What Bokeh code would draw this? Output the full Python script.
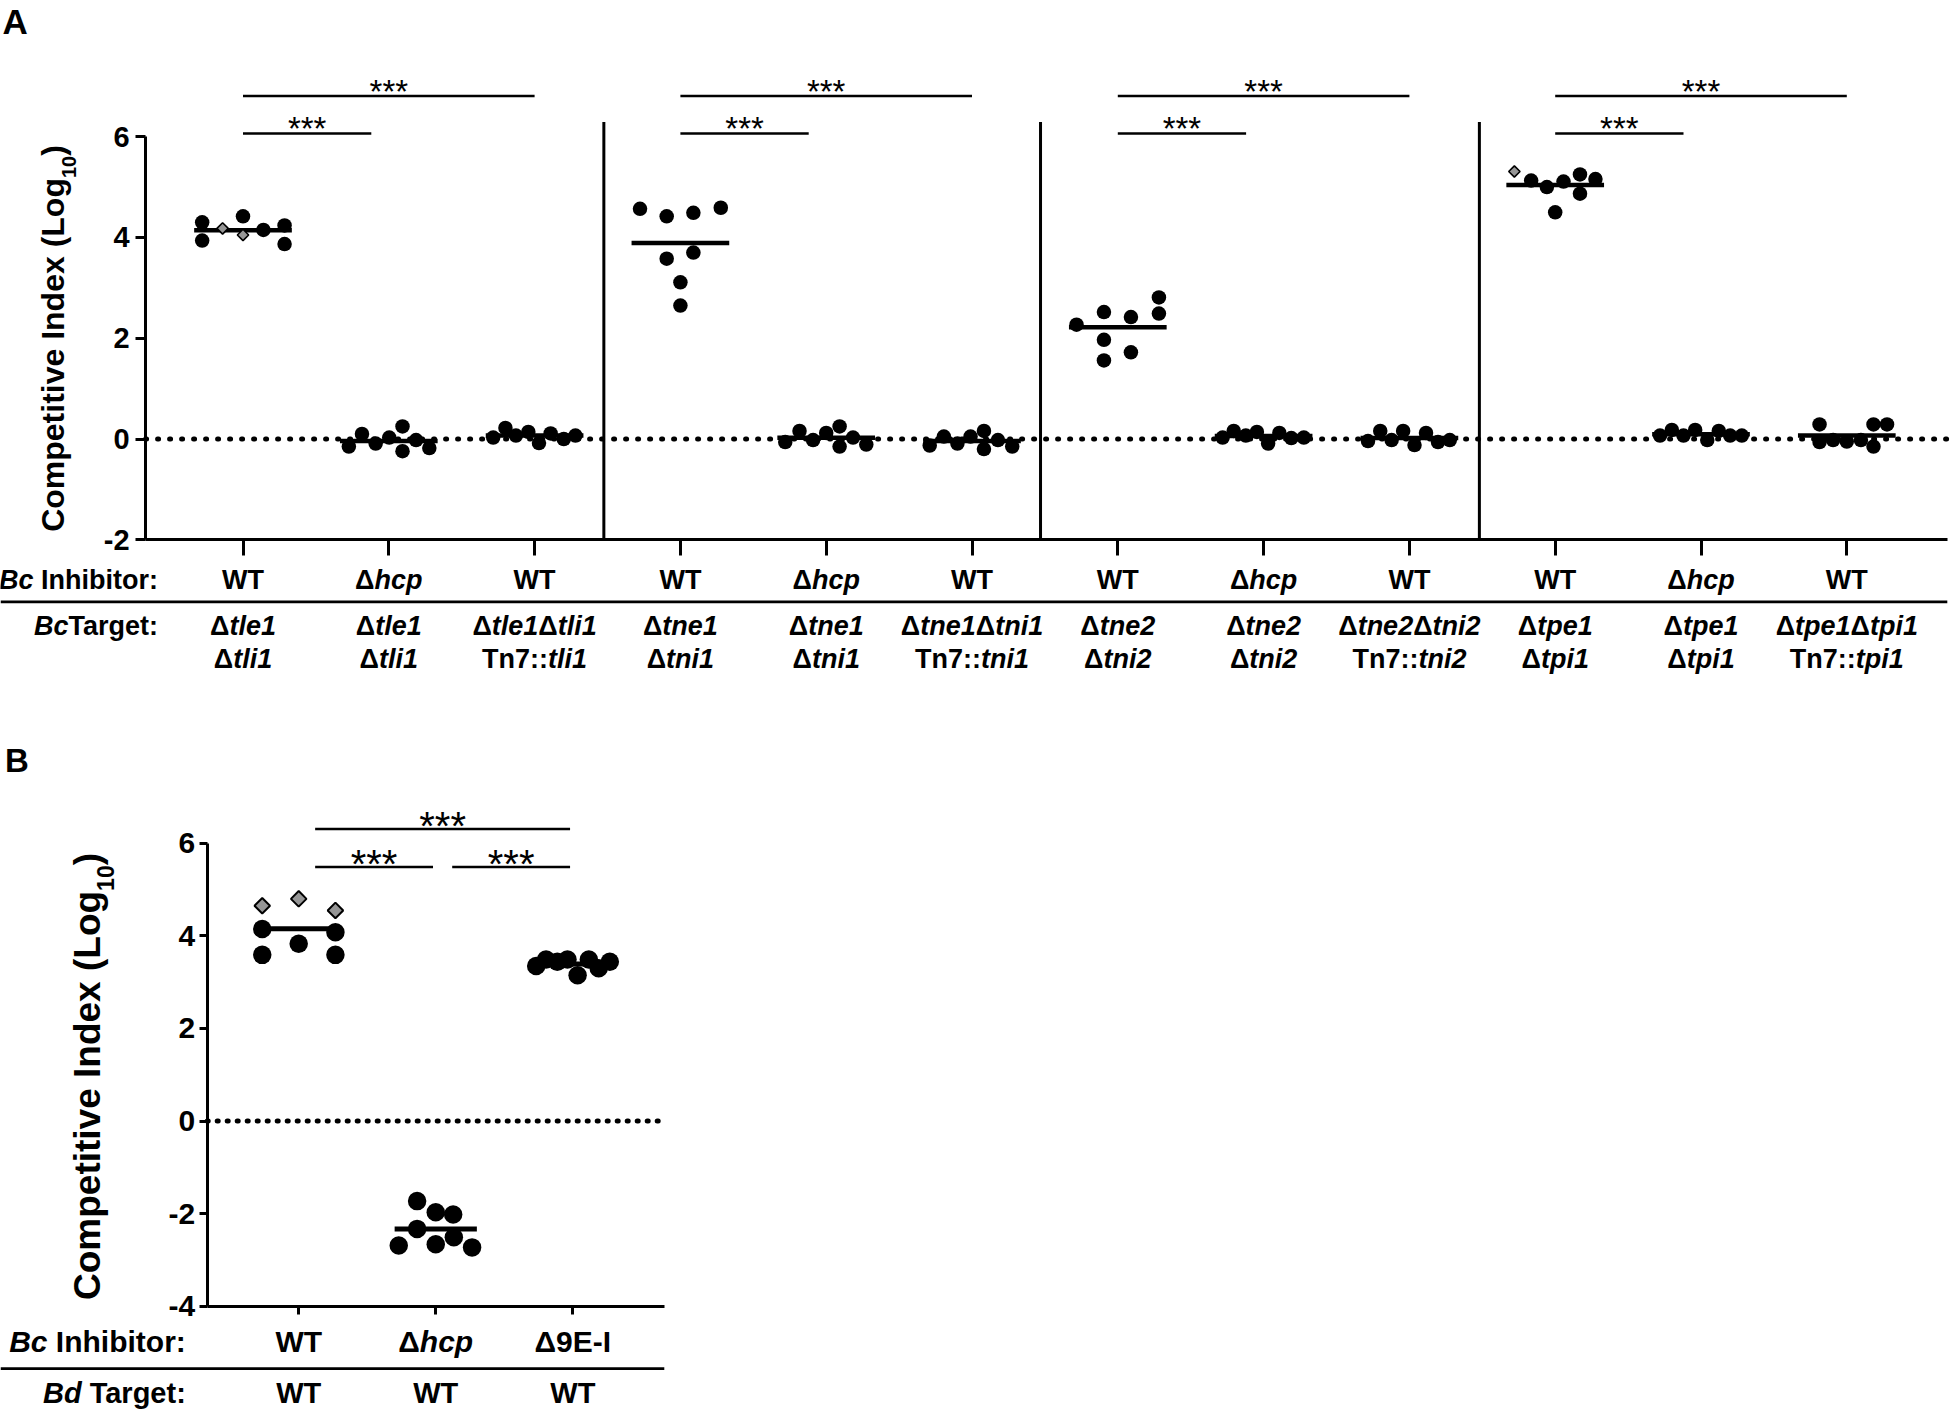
import glob, math
from PIL import ImageFont
from bokeh.plotting import figure
from bokeh.models import Range1d, LinearAxis, FixedTicker, ColumnDataSource
from bokeh.layouts import column
from bokeh.embed import file_html
from bokeh.resources import INLINE
from bokeh.core.properties import value, field

FONT = "Liberation Sans"
NB = "\u00a0"

# ---------------- data: panel A ----------------
A_inhibitor = ["WT", "Δ_hcp_", "WT", "WT", "Δ_hcp_", "WT",
               "WT", "Δ_hcp_", "WT", "WT", "Δ_hcp_", "WT"]
A_target_1 = ["Δ_tle1_", "Δ_tle1_", "Δ_tle1_Δ_tli1_",
              "Δ_tne1_", "Δ_tne1_", "Δ_tne1_Δ_tni1_",
              "Δ_tne2_", "Δ_tne2_", "Δ_tne2_Δ_tni2_",
              "Δ_tpe1_", "Δ_tpe1_", "Δ_tpe1_Δ_tpi1_"]
A_target_2 = ["Δ_tli1_", "Δ_tli1_", "Tn7::_tli1_",
              "Δ_tni1_", "Δ_tni1_", "Tn7::_tni1_",
              "Δ_tni2_", "Δ_tni2_", "Tn7::_tni2_",
              "Δ_tpi1_", "Δ_tpi1_", "Tn7::_tpi1_"]
A_row_labels = ["_Bc_" + NB + "Inhibitor:", "_Bc_Target:"]
A_circle_ci = [
    [4.30, 3.94, 4.42, 4.15, 4.24, 3.87],
    [-0.15, 0.10, -0.09, 0.03, 0.25, -0.24, -0.02, -0.18],
    [0.03, 0.22, 0.07, 0.14, -0.08, 0.11, 0.00, 0.07],
    [4.57, 4.42, 4.49, 4.59, 3.58, 3.70, 3.11, 2.65],
    [-0.06, 0.16, -0.02, 0.12, 0.25, -0.15, 0.03, -0.11],
    [-0.13, 0.05, -0.09, 0.05, 0.16, -0.20, -0.02, -0.15],
    [2.27, 2.52, 1.97, 1.56, 2.42, 1.72, 2.81, 2.49],
    [0.03, 0.16, 0.07, 0.14, -0.09, 0.12, 0.02, 0.03],
    [-0.04, 0.16, -0.02, 0.16, -0.12, 0.12, -0.06, -0.02],
    [5.13, 5.00, 4.50, 5.11, 5.25, 4.87, 5.16],
    [0.07, 0.18, 0.07, 0.18, -0.02, 0.16, 0.07, 0.07],
    [0.29, -0.06, -0.02, -0.05, -0.02, 0.29, -0.15, 0.29],
]
A_circle_jitter = [
    [-0.28, -0.28, 0.0, 0.14, 0.285, 0.285],
    [-0.274, -0.184, -0.09, 0.003, 0.094, 0.094, 0.187, 0.278],
    [-0.284, -0.2, -0.128, -0.043, 0.03, 0.11, 0.2, 0.28],
    [-0.277, -0.094, 0.089, 0.277, -0.094, 0.089, 0.0, 0.0],
    [-0.281, -0.183, -0.09, 0.0, 0.092, 0.092, 0.184, 0.275],
    [-0.29, -0.193, -0.1, -0.01, 0.082, 0.082, 0.178, 0.276],
    [-0.283, -0.095, -0.095, -0.095, 0.09, 0.09, 0.282, 0.282],
    [-0.281, -0.205, -0.122, -0.046, 0.031, 0.108, 0.19, 0.276],
    [-0.284, -0.2, -0.122, -0.043, 0.035, 0.114, 0.196, 0.277],
    [-0.165, -0.057, 0.0, 0.057, 0.17, 0.17, 0.276],
    [-0.281, -0.2, -0.12, -0.04, 0.043, 0.122, 0.2, 0.28],
    [-0.187, -0.187, -0.094, 0.0, 0.097, 0.183, 0.183, 0.276],
]
A_diamond_ci = [[4.18, 4.05], [], [], [], [], [], [], [], [], [5.31], [], []]
A_diamond_jitter = [[-0.14, 0.0], [], [], [], [], [], [], [], [], [-0.28], [], []]
A_comparisons = [(0, 1), (0, 2), (3, 4), (3, 5), (6, 7), (6, 8), (9, 10), (9, 11)]
A_dividers = [2.475, 5.47, 8.48]
A_ticks = [-2, 0, 2, 4, 6]

# ---------------- data: panel B ----------------
B_inhibitor = ["WT", "Δ_hcp_", "Δ9E-I"]
B_target = ["WT", "WT", "WT"]
B_row_labels = ["_Bc_" + NB + "Inhibitor:", "_Bd_" + NB + "Target:"]
B_circle_ci = [
    [4.15, 3.59, 3.83, 4.08, 3.59],
    [-1.73, -1.97, -2.02, -2.33, -2.69, -2.66, -2.51, -2.73],
    [3.35, 3.49, 3.44, 3.49, 3.15, 3.49, 3.30, 3.44],
]
B_circle_jitter = [
    [-0.266, -0.266, 0.0, 0.268, 0.268],
    [-0.136, 0.0, 0.127, -0.136, -0.27, 0.0, 0.132, 0.265],
    [-0.267, -0.195, -0.113, -0.039, 0.035, 0.117, 0.189, 0.27],
]
B_diamond_ci = [[4.65, 4.80, 4.55], [], []]
B_diamond_jitter = [[-0.266, 0.0, 0.268], [], []]
B_comparisons = [(0, 1), (1, 2), (0, 2)]
B_ticks = [-4, -2, 0, 2, 4, 6]
SIG = "***"
YLABEL = ("Competitive Index (Log", "10", ")")

GREY = "#969696"

# ---------------- text measuring ----------------
def _find(name):
    for root in ("/usr/share/fonts", "/usr/local/share/fonts", "/usr/share"):
        hits = glob.glob(root + "/**/" + name, recursive=True)
        if hits:
            return hits[0]
    return None

_FF = {"bold": _find("LiberationSans-Bold.ttf"),
       "bold italic": _find("LiberationSans-BoldItalic.ttf"),
       "normal": _find("LiberationSans-Regular.ttf")}
_cache = {}

def tw(s, style, size):
    path = _FF.get(style)
    if path:
        if path not in _cache:
            _cache[path] = ImageFont.truetype(path, 200)
        return _cache[path].getlength(s) * size / 200.0
    return 0.6 * size * len(s)

def segs(markup):
    out = []
    for i, t in enumerate(markup.split("_")):
        if t:
            out.append((t, "bold italic" if i % 2 else "bold"))
    return out

def new_store():
    return dict(x=[], y=[], text=[], style=[], xo=[], size=[])

def add_rich(store, x, y, markup, size, align="center"):
    ss = segs(markup)
    ws = [tw(t, st, size) for t, st in ss]
    tot = sum(ws)
    off = {"center": -tot / 2, "right": -tot, "left": 0}[align]
    for (t, st), w in zip(ss, ws):
        store["x"].append(x); store["y"].append(y); store["text"].append(t)
        store["style"].append(st); store["xo"].append(off); store["size"].append(f"{size}px")
        off += w

def draw_store(p, store):
    p.text(x="x", y="y", text="text", x_offset="xo", source=ColumnDataSource(store),
           text_font=value(FONT), text_font_style=field("style"), text_font_size=field("size"),
           text_align="left", text_baseline="middle", text_color="black")

def add_ylabel(p, mx, my, center_py, mid_px, size, sub_size, sub_mid_px):
    main, sub, close = YLABEL
    w1 = tw(main, "bold", size); w2 = tw(sub, "bold", sub_size); w3 = tw(close, "bold", size)
    start = center_py + (w1 + w2 + w3) / 2
    src = ColumnDataSource(dict(
        x=[mx(mid_px), mx(sub_mid_px), mx(mid_px)],
        y=[my(start), my(start - w1), my(start - w1 - w2)],
        text=[main, sub, close],
        size=[f"{size}px", f"{sub_size}px", f"{size}px"]))
    p.text(x="x", y="y", text="text", source=src, angle=math.pi / 2,
           text_font=value(FONT), text_font_style="bold", text_font_size=field("size"),
           text_align="left", text_baseline="middle", text_color="black")

def make_fig(w, h, xr, yr):
    p = figure(width=w, height=h, x_range=Range1d(*xr), y_range=Range1d(*yr),
               x_axis_type=None, y_axis_type=None, output_backend="svg",
               toolbar_location=None, min_border=0, outline_line_color=None)
    p.background_fill_color = "white"
    p.border_fill_color = "white"
    return p

def style_axis(ax, tick_out, lsize, standoff):
    ax.axis_line_width = 3
    ax.axis_line_color = "black"
    ax.major_tick_out = tick_out
    ax.major_tick_in = 0
    ax.major_tick_line_width = 3
    ax.major_tick_line_color = "black"
    ax.minor_tick_line_color = None
    ax.major_label_text_font = FONT
    ax.major_label_text_font_style = "bold"
    ax.major_label_text_font_size = f"{lsize}px"
    ax.major_label_text_color = "black"
    ax.major_label_standoff = standoff

def draw_points(p, circ, cjit, dia, djit, csize, dsize, dlw, half, mlw):
    mx0, mx1, my = [], [], []
    for i, (c, d) in enumerate(zip(circ, dia)):
        allv = list(c) + list(d)
        m = sum(allv) / len(allv)
        mx0.append(i - half); mx1.append(i + half); my.append(m)
    p.segment(x0=mx0, y0=my, x1=mx1, y1=my, line_width=mlw, line_color="black")
    cx, cy, dx, dy = [], [], [], []
    for i in range(len(circ)):
        cx += [i + j for j in cjit[i]]; cy += list(circ[i])
        dx += [i + j for j in djit[i]]; dy += list(dia[i])
    p.scatter(x=cx, y=cy, marker="circle", size=csize, fill_color="black", line_color=None)
    p.scatter(x=dx, y=dy, marker="square", angle=math.pi / 4, size=dsize,
              fill_color=GREY, line_color="black", line_width=dlw)

# ================= panel A =================
W_A, H_A = 1950, 708
def ax_(px): return (px - 242.5) / 145.8
def ay_(py): return 6 - (py - 136.2) / 50.39

pA = make_fig(W_A, H_A, (ax_(0), ax_(W_A)), (ay_(H_A), ay_(0)))
AXL, AXR = ax_(145.1), ax_(1946.8)

pA.line(x=[AXL, AXR], y=[0, 0], line_dash="1 11", line_cap="round", line_width=5, line_color="black")
pA.segment(x0=A_dividers, y0=[-2] * len(A_dividers), x1=A_dividers,
           y1=[ay_(121.4)] * len(A_dividers), line_width=3, line_color="black")

yA = LinearAxis(fixed_location=AXL, bounds=(-2, 6), ticker=FixedTicker(ticks=A_ticks))
style_axis(yA, 10, 29, 6)
yA.major_label_overrides = {t: str(t) for t in A_ticks}
pA.add_layout(yA, "left")
xA = LinearAxis(fixed_location=-2, bounds=(AXL, AXR), ticker=FixedTicker(ticks=list(range(len(A_inhibitor)))))
style_axis(xA, 16, 27, 4)
xA.major_label_text_color = None
pA.add_layout(xA, "below")

draw_points(pA, A_circle_ci, A_circle_jitter, A_diamond_ci, A_diamond_jitter, 14.5, 8, 1.6, 0.335, 4.5)

STAR_A = 33
bx0, bx1, by0, sx, sy = [], [], [], [], []
for a, b in A_comparisons:
    if b - a == 1:
        x0, x1, py = a, b - 0.12, 133.0
    else:
        x0, x1, py = a, b, 95.5
    bx0.append(x0); bx1.append(x1); by0.append(ay_(py))
    sx.append((x0 + x1) / 2); sy.append(ay_(py - 12.5 + 0.23 * STAR_A))
pA.segment(x0=bx0, y0=by0, x1=bx1, y1=by0, line_width=2.5, line_color="black")
pA.text(x=sx, y=sy, text=[SIG] * len(sx), text_font=value(FONT), text_font_size=f"{STAR_A}px",
        text_align="center", text_baseline="middle", text_color="black")

pA.line(x=[ax_(0), AXR], y=[ay_(601.3)] * 2, line_width=2.7, line_color="black")

stA = new_store()
for i in range(len(A_inhibitor)):
    add_rich(stA, i, ay_(579), A_inhibitor[i], 27)
    add_rich(stA, i, ay_(625), A_target_1[i], 27)
    add_rich(stA, i, ay_(658.5), A_target_2[i], 27)
add_rich(stA, ax_(157.5), ay_(579), A_row_labels[0], 27, "right")
add_rich(stA, ax_(157.5), ay_(625), A_row_labels[1], 27, "right")
draw_store(pA, stA)

add_ylabel(pA, ax_, ay_, 338, 52.8, 32, 20, 68.0)
pA.text(x=[ax_(2)], y=[ay_(21.3)], text=["A"], text_font=value(FONT), text_font_style="bold",
        text_font_size="35px", text_align="left", text_baseline="middle", text_color="black")

# ================= panel B =================
W_B, H_B, TOP_B = 710, 703, 708
def bx_(px): return (px - 298.2) / 137.05
def by_(py): return 6 - (py - 842.8) / 46.29

pB = make_fig(W_B, H_B, (bx_(0), bx_(W_B)), (by_(TOP_B + H_B), by_(TOP_B)))
BXL, BXR = bx_(206.7), bx_(663.8)

pB.line(x=[BXL, BXR], y=[0, 0], line_dash="1 9", line_cap="round", line_width=5, line_color="black")

yB = LinearAxis(fixed_location=BXL, bounds=(-4, 6), ticker=FixedTicker(ticks=B_ticks))
style_axis(yB, 8, 30, 4)
yB.major_label_overrides = {t: str(t) for t in B_ticks}
pB.add_layout(yB, "left")
xB = LinearAxis(fixed_location=-4, bounds=(BXL, BXR), ticker=FixedTicker(ticks=list(range(len(B_inhibitor)))))
style_axis(xB, 8, 30, 4)
xB.major_label_text_color = None
pB.add_layout(xB, "below")

draw_points(pB, B_circle_ci, B_circle_jitter, B_diamond_ci, B_diamond_jitter, 18.5, 11, 2, 0.3, 5)

STAR_B = 40
bx0, bx1, by0, sx, sy = [], [], [], [], []
for a, b in B_comparisons:
    x0, x1 = a + 0.12, b - 0.02
    py = 866.4 if b - a == 1 else 828.5
    bx0.append(x0); bx1.append(x1); by0.append(by_(py))
    sx.append((x0 + x1) / 2); sy.append(by_(py - 12 + 0.23 * STAR_B))
pB.segment(x0=bx0, y0=by0, x1=bx1, y1=by0, line_width=2.5, line_color="black")
pB.text(x=sx, y=sy, text=[SIG] * len(sx), text_font=value(FONT), text_font_size=f"{STAR_B}px",
        text_align="center", text_baseline="middle", text_color="black")

pB.line(x=[bx_(0), BXR], y=[by_(1368.2)] * 2, line_width=2.7, line_color="black")

stB = new_store()
for i in range(len(B_inhibitor)):
    add_rich(stB, i, by_(1340.5), B_inhibitor[i], 30)
    add_rich(stB, i, by_(1392), B_target[i], 29)
add_rich(stB, bx_(185.3), by_(1340.5), B_row_labels[0], 30, "right")
add_rich(stB, bx_(185.3), by_(1392), B_row_labels[1], 29, "right")
draw_store(pB, stB)

add_ylabel(pB, bx_, by_, 1076, 87.2, 37, 23, 105.0)
pB.text(x=[bx_(4.5)], y=[by_(760)], text=["B"], text_font=value(FONT), text_font_style="bold",
        text_font_size="33px", text_align="left", text_baseline="middle", text_color="black")

layout = column(pA, pB)
open("out.html", "w").write(file_html(layout, INLINE, "Competitive index"))
